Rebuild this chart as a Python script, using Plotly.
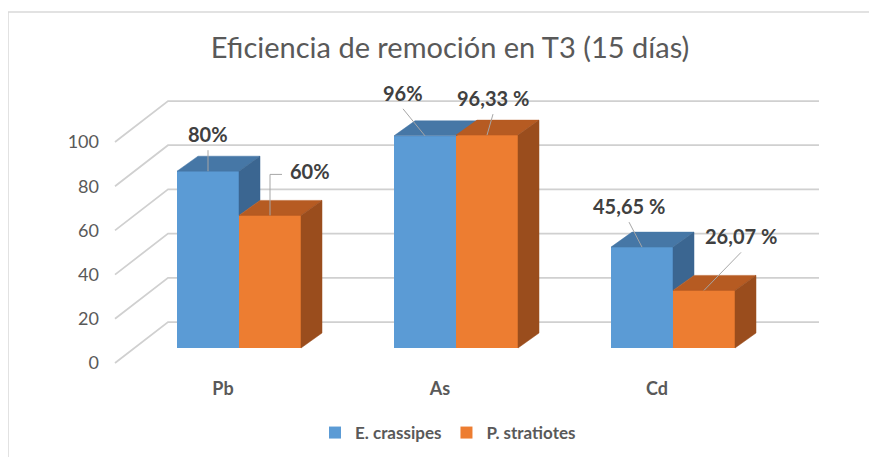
import plotly.graph_objects as go

# ---------------- data ----------------
categories = ["Pb", "As", "Cd"]
e_crassipes = [80, 96, 45.65]
p_stratiotes = [60, 96.33, 26.07]
e_labels = ["80%", "96%", "45,65 %"]
p_labels = ["60%", "96,33 %", "26,07 %"]
y_ticks = [0, 20, 40, 60, 80, 100]
series_names = ["E. crassipes", "P. stratiotes"]
title_text = "Eficiencia de remoción en T3 (15 días)"

# ---------------- styles / geometry (screen pixels) ----------------
W, H = 877, 457
PAGE_OFF = 8               # browser body margin
PLOT_L, PLOT_R, PLOT_T, PLOT_B = 100, 830, 70, 372
ORIGIN_X_PX = 239          # pixel of category 0 centre
PX_PER_CAT = 217
ZERO_Y_PX = 348            # pixel of value 0 on bar front plane
PX_PER_UNIT = 2.21
BAR_W_PX = 62
DEPTH_PX = (21, -15)       # bar depth (right, up)
FRONT_ZERO_Y_PX = 363      # zero on front plane (tick labels)
LABEL_SHIFT_PX = -16       # category labels on front plane
GRID_FRONT_X_PX, GRID_BACK_X_PX, GRID_RIGHT_X_PX = 115, 168, 819
GRID_FRONT_DY_PX, GRID_BACK_DY_PX = 15, -26

BLUE, BLUE_TOP, BLUE_SIDE = "#5b9bd5", "#4677a6", "#3b6691"
ORANGE, ORANGE_TOP, ORANGE_SIDE = "#ed7d31", "#b65b22", "#9a4d1d"
GRID_COLOR = "#d0d0d0"
TEXT_GRAY = "#595959"
LABEL_GRAY = "#404040"
FONT = "Lato"

E_LABEL_OFFSETS_PX = [(0, -37), (-22, -43), (-13, -41)]
P_LABEL_OFFSETS_PX = [(40, -44), (6, -37), (37, -54)]
P_LEADER_KIND = ["elbow", "straight", "straight"]
E_LEADER_KIND = ["straight", "straight", "straight"]


def px_to_x(px):
    return (px - ORIGIN_X_PX) / PX_PER_CAT


def dxu(dpx):
    return dpx / PX_PER_CAT


def dyu(dpx):
    # pixel offset (positive = down) -> value units
    return -dpx / PX_PER_UNIT


bw = dxu(BAR_W_PX)
ddx, ddy = dxu(DEPTH_PX[0]), dyu(DEPTH_PX[1])

x_range = [px_to_x(PLOT_L), px_to_x(PLOT_R)]
y_range = [(ZERO_Y_PX - PLOT_B) / PX_PER_UNIT, (ZERO_Y_PX - PLOT_T) / PX_PER_UNIT]
y2_range = [(FRONT_ZERO_Y_PX - PLOT_B) / PX_PER_UNIT, (FRONT_ZERO_Y_PX - PLOT_T) / PX_PER_UNIT]
x2_range = [x_range[0] - dxu(LABEL_SHIFT_PX), x_range[1] - dxu(LABEL_SHIFT_PX)]

xs = list(range(len(categories)))
e_x = [i - bw / 2 for i in xs]
p_x = [i + bw / 2 for i in xs]

fig = go.Figure()

# front faces
fig.add_trace(go.Bar(x=e_x, y=e_crassipes, width=bw, name=series_names[0],
                     marker=dict(color=BLUE, line=dict(width=0)), hoverinfo="skip"))
fig.add_trace(go.Bar(x=p_x, y=p_stratiotes, width=bw, name=series_names[1],
                     marker=dict(color=ORANGE, line=dict(width=0)), hoverinfo="skip"))


def top_poly(xc, v):
    xl, xr = xc - bw / 2, xc + bw / 2
    return [xl, xr, xr + ddx, xl + ddx, xl, None], [v, v, v + ddy, v + ddy, v, None]


def side_poly(xc, v, vb):
    xr = xc + bw / 2
    return [xr, xr, xr + ddx, xr + ddx, xr, None], [vb, v, v + ddy, vb + ddy, vb, None]


def collect(polys):
    X, Y = [], []
    for px_, py_ in polys:
        X += px_
        Y += py_
    return X, Y


blue_tops = collect([top_poly(e_x[i], e_crassipes[i]) for i in xs])
blue_sides = collect([side_poly(e_x[i], e_crassipes[i], min(e_crassipes[i], p_stratiotes[i])) for i in xs])
orange_tops = collect([top_poly(p_x[i], p_stratiotes[i]) for i in xs])
orange_sides = collect([side_poly(p_x[i], p_stratiotes[i], 0) for i in xs])

for (X, Y), col in [(blue_tops, BLUE_TOP), (blue_sides, BLUE_SIDE),
                    (orange_tops, ORANGE_TOP), (orange_sides, ORANGE_SIDE)]:
    fig.add_trace(go.Scatter(x=X, y=Y, mode="lines", fill="toself", fillcolor=col,
                             line=dict(color=col, width=0.5), showlegend=False,
                             hoverinfo="skip"))

# data labels & leader lines
lx, ly = [], []
annotations = []
for xpos, vals, labels, offs, kinds in [
    (e_x, e_crassipes, e_labels, E_LABEL_OFFSETS_PX, E_LEADER_KIND),
    (p_x, p_stratiotes, p_labels, P_LABEL_OFFSETS_PX, P_LEADER_KIND),
]:
    for i in xs:
        cx, v = xpos[i], vals[i]
        ox, oy = offs[i]
        tx, ty = cx + dxu(ox), v + dyu(oy)
        annotations.append(dict(x=tx, y=ty, xref="x", yref="y", text=labels[i],
                                showarrow=False,
                                font=dict(family=FONT, size=20, color=LABEL_GRAY, weight="bold")))
        if kinds[i] == "elbow":
            lx += [cx, cx, tx - dxu(28), None]
            ly += [v, ty + dyu(3), ty + dyu(3), None]
        else:
            lx += [cx, tx, None]
            ly += [v, ty + dyu(16), None]

fig.add_trace(go.Scatter(x=lx, y=ly, mode="lines", line=dict(color="#a6a6a6", width=1),
                         showlegend=False, hoverinfo="skip"))

# invisible trace so the front-plane label axes are drawn
fig.add_trace(go.Scatter(x=[xs[0]], y=[y_ticks[0]], xaxis="x2", yaxis="y2", mode="markers",
                         marker=dict(opacity=0), showlegend=False, hoverinfo="skip"))

# gridlines (wall + floor perspective)
shapes = []
fx, bx, rx = px_to_x(GRID_FRONT_X_PX), px_to_x(GRID_BACK_X_PX), px_to_x(GRID_RIGHT_X_PX)
for v in y_ticks:
    yf, yb = v + dyu(GRID_FRONT_DY_PX), v + dyu(GRID_BACK_DY_PX)
    shapes.append(dict(type="path", xref="x", yref="y", layer="below",
                       path=f"M {fx},{yf} L {bx},{yb} L {rx},{yb}",
                       line=dict(color=GRID_COLOR, width=1.75)))

# chart border
pw, ph = PLOT_R - PLOT_L, PLOT_B - PLOT_T
shapes.append(dict(type="rect", xref="paper", yref="paper", layer="below",
                   x0=(8 - PLOT_L) / pw, x1=(W + 30 - PLOT_L) / pw,
                   y0=(PLOT_B - (H + 30)) / ph, y1=(PLOT_B - 12) / ph,
                   line=dict(color="#d9d9d9", width=1.5)))

fig.update_layout(
    width=W, height=H,
    margin=dict(l=PLOT_L - PAGE_OFF, r=W + PAGE_OFF - PLOT_R,
                t=PLOT_T - PAGE_OFF, b=H + PAGE_OFF - PLOT_B),
    paper_bgcolor="white", plot_bgcolor="rgba(0,0,0,0)",
    barmode="overlay", bargap=0,
    title=dict(text=title_text, x=(450 - PAGE_OFF) / W, xref="container", xanchor="center",
               y=1 - (48 - PAGE_OFF) / H, yref="container", yanchor="middle",
               font=dict(family=FONT, size=29, color=TEXT_GRAY)),
    xaxis=dict(range=x_range, showgrid=False, zeroline=False, showticklabels=False,
               showline=False, fixedrange=True),
    yaxis=dict(range=y_range, showgrid=False, zeroline=False, showticklabels=False,
               showline=False, fixedrange=True),
    xaxis2=dict(range=x2_range, overlaying="x", side="bottom", anchor="y",
                tickmode="array", tickvals=xs, ticktext=categories, ticks="",
                ticklabelstandoff=4,
                showgrid=False, zeroline=False, showline=False, fixedrange=True,
                tickfont=dict(family=FONT, size=18, color=TEXT_GRAY, weight="bold")),
    yaxis2=dict(range=y2_range, overlaying="y", side="left", anchor="x",
                tickmode="array", tickvals=y_ticks, ticks="",
                showgrid=False, zeroline=False, showline=False, fixedrange=True,
                tickfont=dict(family=FONT, size=18, color=TEXT_GRAY)),
    legend=dict(orientation="h", xref="container", yref="container",
                x=(448 - PAGE_OFF) / W, xanchor="center",
                y=1 - (433 - PAGE_OFF) / H, yanchor="middle",
                font=dict(family=FONT, size=17, color=TEXT_GRAY, weight="bold"),
                itemwidth=30),
    annotations=annotations,
    shapes=shapes,
    showlegend=True,
)

fig.write_html("out.html")
